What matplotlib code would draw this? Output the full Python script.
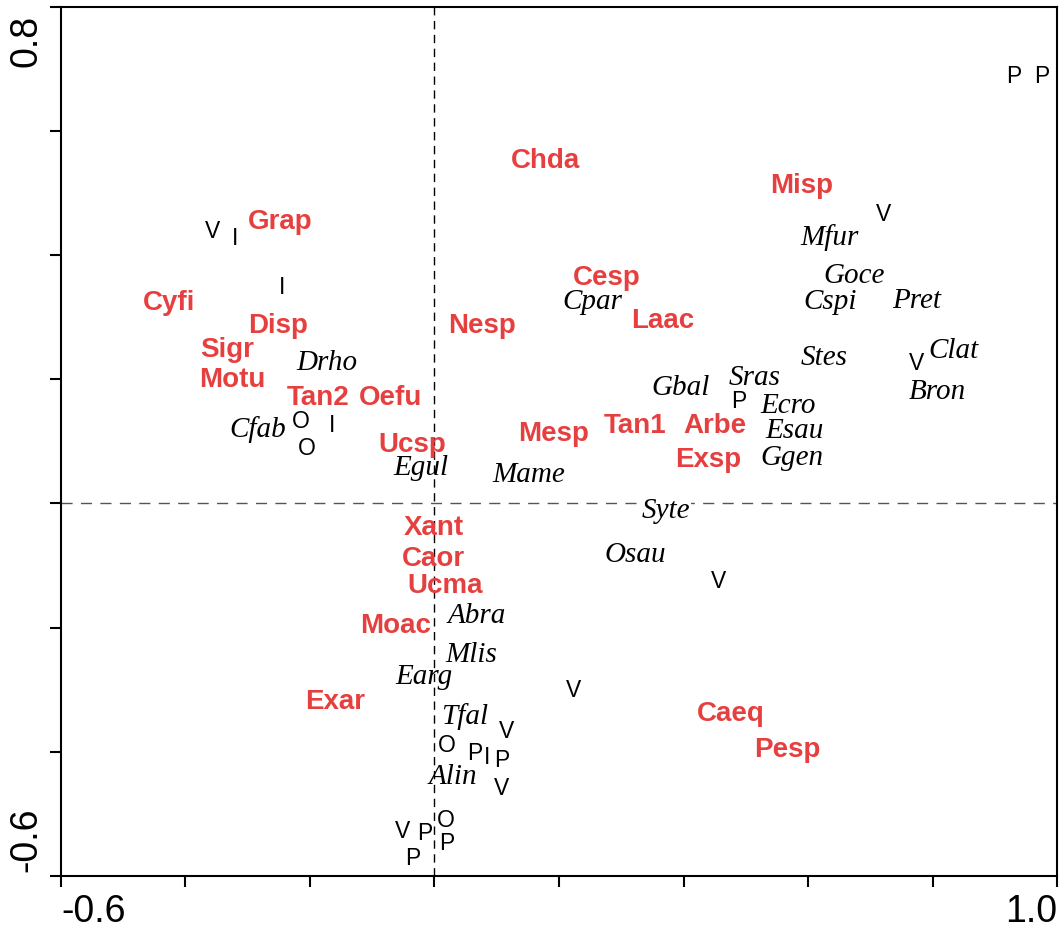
import matplotlib
matplotlib.use("Agg")
import matplotlib.pyplot as plt
import matplotlib.transforms as mtransforms
import numpy as np

# ---------------- data ----------------
# Environmental / red bold labels
red_names = ["Grap", "Cyfi", "Disp", "Sigr", "Motu", "Tan2", "Oefu", "Ucsp",
             "Nesp", "Chda", "Misp", "Cesp", "Laac", "Mesp", "Tan1", "Arbe",
             "Exsp", "Xant", "Caor", "Ucma", "Moac", "Exar", "Caeq", "Pesp"]
red_x = [-0.248, -0.427, -0.251, -0.333, -0.325, -0.187, -0.071, -0.035,
         0.076, 0.178, 0.589, 0.277, 0.367, 0.192, 0.322, 0.451,
         0.439, -0.001, -0.002, 0.017, -0.063, -0.160, 0.476, 0.566]
red_y = [0.443, 0.313, 0.276, 0.237, 0.189, 0.160, 0.160, 0.084,
         0.276, 0.542, 0.501, 0.353, 0.284, 0.102, 0.115, 0.115,
         0.060, -0.049, -0.099, -0.143, -0.207, -0.329, -0.349, -0.407]

# Species (black italic labels)
sp_names = ["Drho", "Cfab", "Egul", "Cpar", "Mame", "Gbal", "Sras", "Ecro",
            "Esau", "Ggen", "Stes", "Goce", "Cspi", "Pret", "Mfur", "Clat",
            "Bron", "Syte", "Osau", "Abra", "Mlis", "Earg", "Tfal", "Alin"]
sp_x = [-0.173, -0.284, -0.022, 0.253, 0.152, 0.396, 0.515, 0.568,
        0.579, 0.574, 0.626, 0.674, 0.635, 0.774, 0.635, 0.833,
        0.807, 0.372, 0.322, 0.068, 0.059, -0.017, 0.049, 0.030]
sp_y = [0.216, 0.109, 0.047, 0.315, 0.036, 0.176, 0.192, 0.147,
        0.107, 0.063, 0.224, 0.356, 0.315, 0.316, 0.418, 0.236,
        0.170, -0.022, -0.093, -0.191, -0.254, -0.289, -0.354, -0.450]

# Samples (single letter codes)
smp_codes = ["V", "I", "I", "O", "I", "O", "V", "P", "P", "P", "V", "V",
             "V", "V", "O", "P", "I", "P", "V", "O", "V", "P", "P", "P"]
smp_x = [-0.357, -0.320, -0.245, -0.214, -0.165, -0.205, 0.722, 0.931,
         0.976, 0.488, 0.775, 0.457, 0.224, 0.116, 0.020, 0.065,
         0.084, 0.108, 0.107, 0.018, -0.051, -0.015, 0.020, -0.035]
smp_y = [0.429, 0.418, 0.339, 0.123, 0.117, 0.080, 0.456, 0.678,
         0.678, 0.155, 0.216, -0.135, -0.310, -0.376, -0.399, -0.412,
         -0.418, -0.423, -0.468, -0.519, -0.537, -0.540, -0.556, -0.581]

x_ticks = [-0.6, -0.4, -0.2, 0.0, 0.2, 0.4, 0.6, 0.8, 1.0]
x_tick_labels = ["-0.6", "", "", "", "", "", "", "", "1.0"]
y_ticks = [-0.6, -0.4, -0.2, 0.0, 0.2, 0.4, 0.6, 0.8]
y_tick_labels = ["-0.6", "", "", "", "", "", "", "0.8"]

# ---------------- plot ----------------
fig = plt.figure(figsize=(10.6, 9.29), dpi=100)
ax = fig.add_axes([0.0575, 0.0560, 0.9397, 0.9359])
ax.set_xlim(-0.6, 1.0)
ax.set_ylim(-0.6, 0.8)

ax.axvline(0, color="black", lw=1.0, ls=(0, (6, 4)), zorder=1)
ax.axhline(0, color="#555555", lw=1.0, ls=(0, (8, 6)), zorder=1)

red_col = "#e5403f"
for n, x, y in zip(red_names, red_x, red_y):
    ax.text(x, y, n, color=red_col, fontsize=20, fontweight="bold",
            family=["Liberation Sans", "DejaVu Sans"], ha="center",
            va="baseline", zorder=3)

for n, x, y in zip(sp_names, sp_x, sp_y):
    kw = {}
    if n == "Syte":
        kw["bbox"] = dict(facecolor="white", edgecolor="none", pad=0.5)
    ax.text(x, y, n, color="black", fontsize=21, fontstyle="italic",
            family=["Liberation Serif", "DejaVu Serif"], ha="center",
            va="baseline", zorder=3, **kw)

for c, x, y in zip(smp_codes, smp_x, smp_y):
    ax.text(x, y, c, color="black", fontsize=16.5,
            family=["Liberation Sans", "DejaVu Sans"], ha="center",
            va="baseline", zorder=3)

for s in ax.spines.values():
    s.set_linewidth(1.5)

ax.set_xticks(x_ticks)
ax.set_xticklabels(x_tick_labels, fontsize=27, family="Liberation Sans")
ax.set_yticks(y_ticks)
ax.set_yticklabels(y_tick_labels, fontsize=27, family="Liberation Sans",
                   rotation=90)
ax.tick_params(axis="x", direction="out", length=8, width=1.5, pad=4)
ax.tick_params(axis="y", direction="out", length=8, width=1.5, pad=4)

xl = ax.get_xticklabels()
xl[0].set_ha("left")
xl[-1].set_ha("right")
yl = ax.get_yticklabels()
yl[0].set_va("bottom")
yl[-1].set_va("top")
yl[0].set_transform(yl[0].get_transform() +
                    mtransforms.ScaledTranslation(0, 5 / 100, fig.dpi_scale_trans))
yl[-1].set_transform(yl[-1].get_transform() +
                     mtransforms.ScaledTranslation(0, -7 / 100, fig.dpi_scale_trans))

fig.savefig("out.png", dpi=100)
